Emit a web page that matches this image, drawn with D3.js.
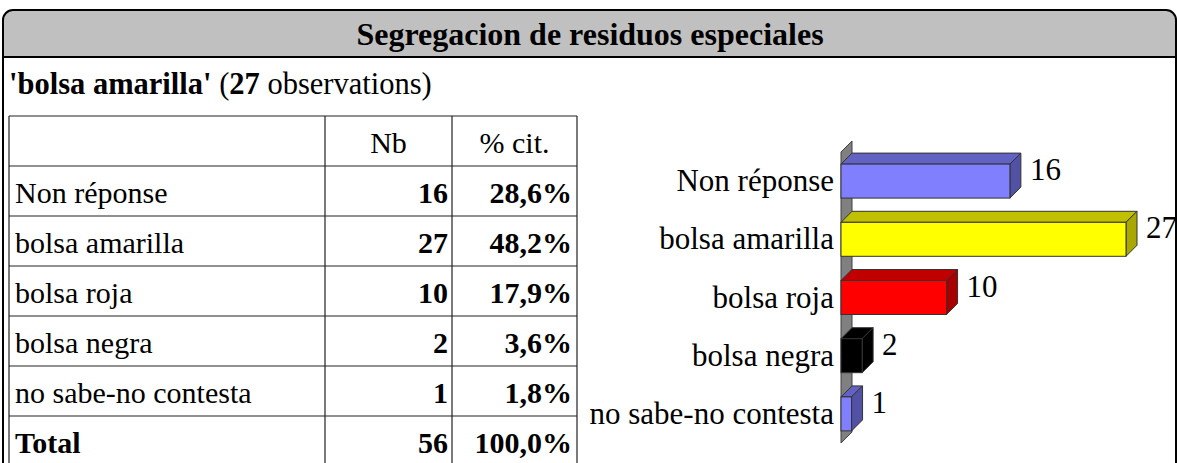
<!DOCTYPE html>
<html>
<head>
<meta charset="utf-8">
<script src="https://cdn.jsdelivr.net/npm/d3@7"></script>
<style>
  body { margin: 0; background: #fff; }
  svg { display: block; font-family: "Liberation Serif", "Times New Roman", serif; }
</style>
</head>
<body>
<svg id="chart" width="1177" height="463"></svg>
<script>
const TITLE = "Segregacion de residuos especiales";
const categories = ["Non réponse", "bolsa amarilla", "bolsa roja", "bolsa negra", "no sabe-no contesta"];
const counts = [16, 27, 10, 2, 1];
const percents = [28.6, 48.2, 17.9, 3.6, 1.8];
const totalCount = 56;
const totalPercent = 100.0;
const tableHeaders = ["", "Nb", "% cit."];
const frontColors = ["#8080ff", "#ffff00", "#ff0000", "#000000", "#8080ff"];
const topColors = ["#6262c4", "#c0c000", "#c00000", "#000000", "#6262c4"];
const sideColors = ["#5252a4", "#a8a800", "#a80000", "#000000", "#5252a4"];

const DEPTH = 11;
const fmtPct = v => v.toFixed(1).replace(".", ",") + "%";

const svg = d3.select("#chart");

// frame + title band
svg.append("rect")
    .attr("x", 3).attr("y", 10)
    .attr("width", 1173).attr("height", 480)
    .attr("rx", 10)
    .attr("fill", "#fff");

const r = 10, fx0 = 3, fx1 = 1176, fy0 = 10, fy1 = 57;
svg.append("path")
    .attr("d", `M${fx0},${fy1} L${fx0},${fy0 + r} Q${fx0},${fy0} ${fx0 + r},${fy0} L${fx1 - r},${fy0} Q${fx1},${fy0} ${fx1},${fy0 + r} L${fx1},${fy1} Z`)
    .attr("fill", "#c0c0c0");
svg.append("line")
    .attr("x1", fx0).attr("x2", fx1).attr("y1", fy1).attr("y2", fy1)
    .attr("stroke", "#000").attr("stroke-width", 2);
svg.append("rect")
    .attr("x", 3).attr("y", 10)
    .attr("width", 1173).attr("height", 480)
    .attr("rx", 10)
    .attr("fill", "none")
    .attr("stroke", "#000").attr("stroke-width", 2);

svg.append("text")
    .attr("x", 590).attr("y", 45)
    .attr("text-anchor", "middle")
    .attr("font-size", 32).attr("font-weight", "bold")
    .text(TITLE);

// subtitle
const sub = svg.append("text")
    .attr("x", 9).attr("y", 94)
    .attr("font-size", 30.5);
sub.append("tspan").attr("font-weight", "bold").text("'" + categories[1] + "'");
sub.append("tspan").text(" (");
sub.append("tspan").attr("font-weight", "bold").text(counts[1]);
sub.append("tspan").text(" observations)");

// table
const colX = [9, 325, 452, 577];
const rowY = d3.range(8).map(i => 116 + i * 50);
const table = svg.append("g");

const rows = categories.map((c, i) => ({ label: c, nb: counts[i], pct: fmtPct(percents[i]), bold: false }));
rows.push({ label: "Total", nb: totalCount, pct: fmtPct(totalPercent), bold: true });

rowY.forEach(y => {
    table.append("line")
        .attr("x1", colX[0]).attr("x2", colX[3])
        .attr("y1", y).attr("y2", y)
        .attr("stroke", "#222").attr("stroke-width", 1.2);
});
colX.forEach(x => {
    table.append("line")
        .attr("x1", x).attr("x2", x)
        .attr("y1", rowY[0]).attr("y2", rowY[7])
        .attr("stroke", "#222").attr("stroke-width", 1.2);
});

table.append("text")
    .attr("x", (colX[1] + colX[2]) / 2).attr("y", rowY[0] + 37)
    .attr("text-anchor", "middle").attr("font-size", 30)
    .text(tableHeaders[1]);
table.append("text")
    .attr("x", (colX[2] + colX[3]) / 2).attr("y", rowY[0] + 37)
    .attr("text-anchor", "middle").attr("font-size", 30)
    .text(tableHeaders[2]);

const tr = table.selectAll("g.row")
    .data(rows)
    .enter().append("g")
    .attr("class", "row")
    .attr("transform", (d, i) => `translate(0,${rowY[i + 1] + 37})`)
    .attr("font-size", 30);
tr.append("text")
    .attr("x", colX[0] + 6)
    .attr("font-weight", d => d.bold ? "bold" : "normal")
    .text(d => d.label);
tr.append("text")
    .attr("x", colX[2] - 4)
    .attr("text-anchor", "end")
    .attr("font-weight", "bold")
    .text(d => d.nb);
tr.append("text")
    .attr("x", colX[3] - 5)
    .attr("text-anchor", "end")
    .attr("font-weight", "bold")
    .text(d => d.pct);

// 3D bar chart
const x = d3.scaleLinear().domain([0, 27]).range([841, 1126]);
const y = d3.scaleBand()
    .domain(categories)
    .range([152, 443])
    .paddingInner(0.416)
    .paddingOuter(0.208);
const h = y.bandwidth();

const x0 = x(0);
const [wy0, wy1] = y.range();
svg.append("polygon")
    .attr("points", [[x0, wy0], [x0 + DEPTH, wy0 - DEPTH], [x0 + DEPTH, wy1 - DEPTH], [x0, wy1]].join(" "))
    .attr("fill", "#808080")
    .attr("stroke", "#404040").attr("stroke-width", 1);

const bars = svg.selectAll("g.bar")
    .data(categories.map((c, i) => ({ c, v: counts[i], i })))
    .enter().append("g")
    .attr("class", "bar");

bars.append("polygon")
    .attr("points", d => {
        const yt = y(d.c), x1 = x(d.v);
        return [[x0, yt], [x0 + DEPTH, yt - DEPTH], [x1 + DEPTH, yt - DEPTH], [x1, yt]].join(" ");
    })
    .attr("fill", d => topColors[d.i])
    .attr("stroke", "#333").attr("stroke-width", 1);
bars.append("polygon")
    .attr("points", d => {
        const yt = y(d.c), x1 = x(d.v);
        return [[x1, yt], [x1 + DEPTH, yt - DEPTH], [x1 + DEPTH, yt + h - DEPTH], [x1, yt + h]].join(" ");
    })
    .attr("fill", d => sideColors[d.i])
    .attr("stroke", "#333").attr("stroke-width", 1);
bars.append("rect")
    .attr("x", x0)
    .attr("y", d => y(d.c))
    .attr("width", d => x(d.v) - x0)
    .attr("height", h)
    .attr("fill", d => frontColors[d.i])
    .attr("stroke", "#333").attr("stroke-width", 1);

bars.append("text")
    .attr("x", d => x(d.v) + DEPTH + 9)
    .attr("y", d => y(d.c) + 16)
    .attr("font-size", 31)
    .text(d => d.v);

svg.selectAll("text.cat")
    .data(categories)
    .enter().append("text")
    .attr("class", "cat")
    .attr("x", x0 - 7)
    .attr("y", d => y(d) + 27)
    .attr("text-anchor", "end")
    .attr("font-size", 31)
    .text(d => d);
</script>
</body>
</html>
